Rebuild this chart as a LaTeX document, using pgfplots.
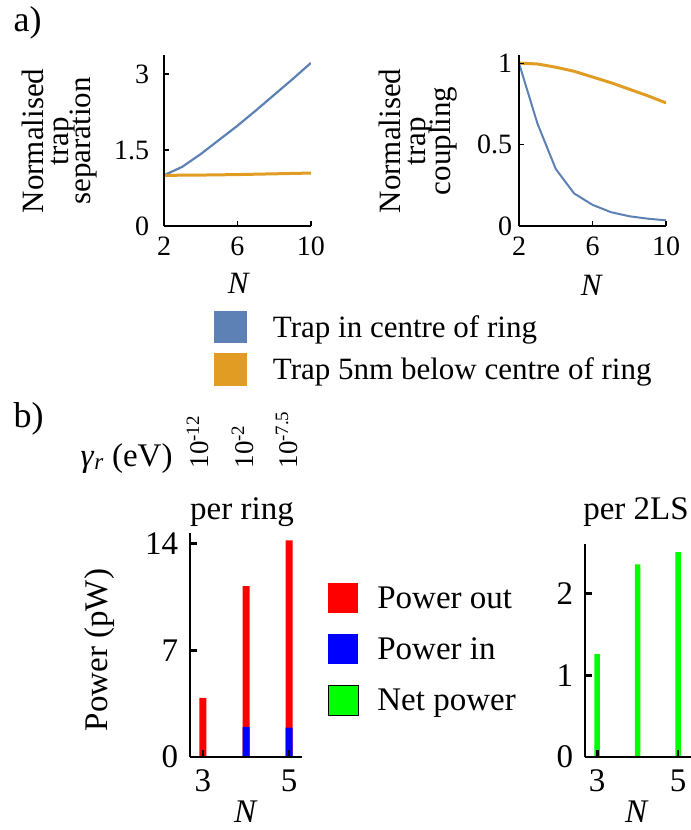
\documentclass[border=0pt]{standalone}
\usepackage{fontspec}
\setmainfont{LiberationSerif}[Extension=.ttf, UprightFont=*-Regular, ItalicFont=*-Italic, BoldFont=*-Bold, BoldItalicFont=*-BoldItalic]
\usepackage{pgfplots}
\pgfplotsset{compat=1.18}
\definecolor{mblue}{RGB}{94,129,181}
\definecolor{morange}{RGB}{225,156,36}
\definecolor{pred}{RGB}{255,0,0}
\definecolor{pblue}{RGB}{0,0,255}
\definecolor{pgreen}{RGB}{0,255,0}
\newcommand{\fs}[1]{\fontsize{#1bp}{#1bp}\selectfont}
\pgfplotsset{
  sq/.style={legend image code/.code={\fill (0bp,-15bp) rectangle (30bp,15bp);}},
  base/.style={scale only axis, anchor=south west, axis on top,
    axis x line=bottom, axis y line=left, axis line style={-, black},
    tick align=inside, tick style={black},
    tick label style={inner sep=0pt, outer sep=0pt}},
  pa/.style={base, axis line style={line width=1.3bp}, tick style={line width=1.2bp},
    major tick length=5bp, tick label style={font=\fs{28}},
    width=147bp, height=171bp, xmin=2, xmax=10, ymin=0,
    xtick={2,6,10}, xticklabels={2,6,10}, xticklabel shift=11bp},
  pb/.style={base, axis line style={line width=2.8bp}, tick style={line width=2.8bp},
    major tick length=7bp, tick label style={font=\fs{33}},
    xmin=2.7, ymin=0, xtick={3,5}, xticklabels={3,5},
    xticklabel shift=13bp, yticklabel shift=12bp},
}
\begin{document}
\begin{tikzpicture}
\path[use as bounding box] (0bp,0bp) rectangle (691bp,-830bp);

% ---------- a) left: trap separation
\begin{axis}[pa, at={(164bp,-226bp)}, ymax=3.375,
  ytick={0,1.5,3}, yticklabels={0,1.5,3}, yticklabel shift=15bp,
  legend style={at={(axis description cs:0.340,-0.497)}, anchor=north west,
    draw=none, fill=none, inner sep=0pt, outer sep=0pt, font=\fs{31},
    nodes={inner sep=0pt}, column sep=26bp, row sep=10bp},
  legend cell align=left]
\addplot[mblue, line width=2.2bp, sq] coordinates {(2,1.0) (3,1.17) (4,1.42) (5,1.70) (6,1.98) (7,2.28) (8,2.59) (9,2.90) (10,3.22)};
\addlegendentry{Trap in centre of ring}
\addplot[morange, line width=3bp, sq] coordinates {(2,1.0) (4,1.005) (6,1.015) (8,1.03) (10,1.045)};
\addlegendentry{Trap 5nm below centre of ring}
\end{axis}

% ---------- a) right: trap coupling
\begin{axis}[pa, at={(519bp,-226bp)}, ymax=1.05,
  ytick={0,0.5,1}, yticklabels={0,0.5,1}, yticklabel shift=7bp]
\addplot[morange, line width=3bp] coordinates {(2,1.0) (3,0.995) (4,0.975) (5,0.95) (6,0.915) (7,0.88) (8,0.84) (9,0.80) (10,0.756)};
\addplot[mblue, line width=2bp] coordinates {(2,1.0) (3,0.63) (4,0.35) (5,0.20) (6,0.13) (7,0.085) (8,0.06) (9,0.045) (10,0.035)};
\end{axis}

% ---------- b) left: per ring
\begin{axis}[pb, at={(190bp,-757bp)}, width=112bp, height=224bp,
  xmax=5.3, ymax=14.69, ytick={0,7,14}, yticklabels={0,7,14},
  legend style={at={(axis description cs:1.232,0.777)}, anchor=north west,
    draw=none, fill=none, inner sep=0pt, outer sep=0pt, font=\fs{33},
    nodes={inner sep=0pt}, column sep=19bp, row sep=21bp},
  legend cell align=left]
\addplot[ybar, bar width=7bp, bar shift=0pt, fill=pred, draw=none, sq] coordinates {(3,3.87) (4,11.2) (5,14.2)};
\addlegendentry{Power out}
\addplot[ybar, bar width=7bp, bar shift=0pt, fill=pblue, draw=none, sq] coordinates {(3,0) (4,1.97) (5,1.93)};
\addlegendentry{Power in}
\addlegendimage{sq, fill=pgreen}
\addlegendentry{Net power}
\end{axis}

% ---------- b) right: per 2LS
\begin{axis}[pb, at={(585bp,-757bp)}, width=106bp, height=213bp,
  xmax=5.32, ymax=2.61, ytick={0,1,2}, yticklabels={0,1,2}]
\addplot[ybar, bar width=5.5bp, bar shift=0pt, fill=pgreen, draw=none] coordinates {(3,1.26) (4,2.36) (5,2.51)};
\end{axis}

% ---------- texts
\node[anchor=base west, font=\fs{36}] at (10bp,-31bp) {a)};
\node[anchor=base west, font=\fs{36}] at (10bp,-427bp) {b)};

\node[rotate=90, anchor=base, font=\fs{31}] at (43bp,-141bp) {Normalised};
\node[rotate=90, anchor=base, font=\fs{31}] at (68bp,-141bp) {trap};
\node[rotate=90, anchor=base, font=\fs{31}] at (90bp,-141bp) {separation};
\node[rotate=90, anchor=base, font=\fs{31}] at (400bp,-141bp) {Normalised};
\node[rotate=90, anchor=base, font=\fs{31}] at (425bp,-141bp) {trap};
\node[rotate=90, anchor=base, font=\fs{31}] at (450bp,-141bp) {coupling};

\node[anchor=base, font=\fs{31}] at (239bp,-293bp) {\textit{N}};
\node[anchor=base, font=\fs{31}] at (592bp,-295bp) {\textit{N}};

\node[anchor=base west, font=\fs{33}] at (77bp,-466bp) {\textit{γ}\textsubscript{\textit{r}} (eV)};
\node[rotate=90, anchor=base west, font=\fs{27}] at (208bp,-472bp) {10\textsuperscript{-12}};
\node[rotate=90, anchor=base west, font=\fs{27}] at (253bp,-472bp) {10\textsuperscript{-2}};
\node[rotate=90, anchor=base west, font=\fs{27}] at (297bp,-472bp) {10\textsuperscript{-7.5}};

\node[anchor=base, font=\fs{33}] at (242bp,-519bp) {per ring};
\node[anchor=base, font=\fs{33}] at (636bp,-519bp) {per 2LS};
\node[rotate=90, anchor=base, font=\fs{33}] at (107bp,-650bp) {Power (pW)};
\node[anchor=base, font=\fs{33}] at (246bp,-822bp) {\textit{N}};
\node[anchor=base, font=\fs{33}] at (637bp,-822bp) {\textit{N}};
\end{tikzpicture}
\end{document}
